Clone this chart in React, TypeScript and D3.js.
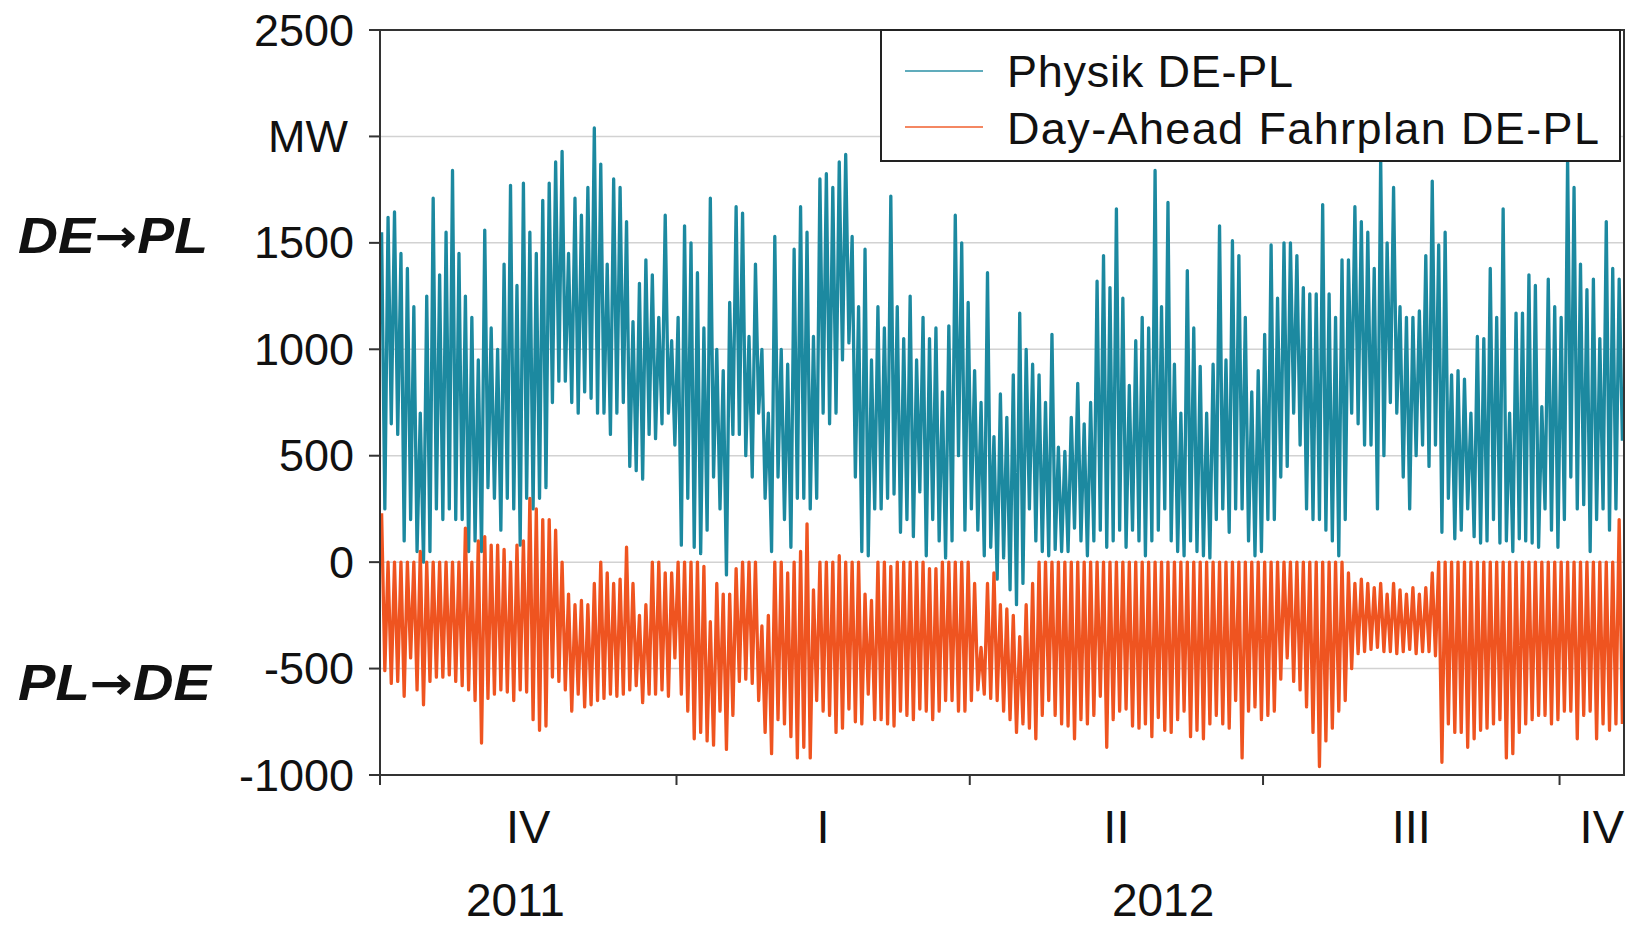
import React from 'react';
import * as d3 from 'd3';

// ---------- data (2-day bins: max and min of each bin, MW) ----------
const startDate = '2011-10-01';
const endDate = '2012-10-21';
const binDays = 2;

const physikHigh = [
  1550,1620,1645,1450,1380,1200,700,1250,1710,1350,1550,1840,1450,1250,1150,950,1560,1100,1000,1400,1770,1300,1780,1550,1450,1700,1780,1880,1930,1450,1710,1630,
  1760,2040,1870,1400,1800,1760,1600,1130,1310,1420,1350,1150,1630,1040,1150,1580,1500,1360,1100,1710,1000,900,1220,1670,1640,1060,1400,1000,700,1530,1000,930,1470,
  1670,1550,1060,1800,1825,1760,1880,1915,1530,1200,1470,950,1200,1100,1720,1200,1050,1250,950,1150,1050,1100,800,1110,1630,1500,1220,900,750,1360,590,790,680,
  880,1170,1000,930,880,750,1070,540,520,680,840,650,750,1320,1440,1290,1660,1240,830,1040,1150,1100,1840,1200,1690,930,700,1370,1100,920,700,930,
  1580,950,1510,1440,1150,800,900,1070,1490,1240,1500,1500,1440,1290,1260,1260,1680,1260,1150,1420,1420,1670,1600,1550,1380,1900,1500,1760,1200,1150,1150,1180,
  1440,1790,1490,1550,880,900,860,700,1060,1050,1380,1150,1660,700,1170,1170,1350,1300,730,1330,1200,1150,1900,1760,1400,1280,1330,1050,1600,1380,1330,
];
const physikLow = [
  250,650,600,100,200,50,0,50,250,200,250,200,200,50,100,50,350,300,150,300,250,80,300,250,300,350,750,850,850,750,700,800,
  770,700,700,600,700,750,450,430,390,600,580,650,700,550,80,300,70,40,150,400,250,-60,600,600,500,400,700,300,50,400,200,70,300,
  300,250,300,700,650,700,950,1030,400,50,30,250,250,300,320,140,200,120,330,30,200,100,20,100,500,150,250,150,30,70,-80,20,-130,
  -200,-100,250,100,50,30,60,50,50,160,100,30,100,150,70,100,150,70,150,100,30,100,150,250,100,50,30,100,50,30,20,200,
  250,140,250,250,100,30,50,200,200,400,450,700,550,250,200,200,150,100,30,200,700,650,550,550,250,500,750,700,400,250,500,550,
  450,550,140,300,110,150,250,120,90,100,200,90,100,50,110,100,90,70,250,150,70,200,400,250,270,50,200,250,150,250,570,
];
const fahrplanHigh = [
  230,0,0,0,0,0,50,0,0,0,0,0,0,160,0,100,120,80,80,60,0,80,100,300,250,200,200,150,0,-150,-200,-180,
  -200,-100,0,-50,-100,-80,70,-100,-250,-200,0,0,-50,-50,0,0,0,0,-20,-280,-100,-150,-150,-30,0,0,0,-300,-250,0,0,-50,0,
  50,180,-130,0,0,0,30,0,0,0,-150,-180,0,0,-20,0,0,0,0,0,-30,-30,0,0,0,0,0,-100,-400,-100,-50,-200,-220,
  -250,-350,-200,-100,0,0,0,0,0,0,0,0,0,0,0,0,0,0,0,0,0,0,0,0,0,0,0,0,0,0,0,0,
  0,0,0,0,0,0,0,0,0,0,0,0,0,0,0,0,0,0,0,0,-50,-100,-80,-100,-120,-100,-150,-100,-130,-150,-120,-150,
  -120,-50,0,0,0,0,0,0,0,0,0,0,0,0,0,0,0,0,0,0,0,0,0,0,0,0,0,0,0,0,200,
];
const fahrplanLow = [
  -510,-570,-560,-630,-450,-600,-670,-560,-540,-540,-530,-560,-580,-600,-650,-850,-640,-620,-600,-610,-650,-600,-610,-740,-790,-770,-540,-560,-600,-700,-620,-680,
  -670,-650,-640,-620,-630,-620,-600,-580,-660,-620,-620,-600,-630,-450,-620,-700,-830,-800,-840,-860,-700,-880,-720,-560,-550,-570,-650,-800,-900,-740,-760,-820,-920,
  -870,-920,-650,-700,-720,-800,-780,-690,-750,-760,-620,-740,-740,-760,-770,-700,-720,-740,-690,-700,-740,-700,-650,-650,-700,-700,-650,-600,-620,-640,-650,-700,-740,
  -800,-760,-780,-830,-720,-650,-720,-760,-770,-830,-740,-760,-720,-630,-870,-740,-700,-690,-770,-780,-760,-820,-730,-790,-800,-740,-700,-820,-790,-830,-760,-720,
  -760,-780,-650,-920,-700,-680,-740,-720,-700,-550,-450,-560,-600,-680,-800,-960,-840,-780,-700,-650,-500,-430,-420,-410,-400,-420,-420,-430,-420,-410,-430,-420,
  -420,-440,-940,-760,-800,-800,-870,-830,-790,-780,-760,-740,-920,-900,-800,-760,-740,-720,-720,-760,-740,-700,-700,-830,-720,-700,-830,-760,-790,-760,-760,
];

const yTicks = [-1000, -500, 0, 500, 1000, 1500, 2000, 2500];
const yTickLabels = ['-1000', '-500', '0', '500', '1000', '1500', 'MW', '2500'];
const quarterStarts = ['2011-10-01', '2012-01-01', '2012-04-01', '2012-07-01', '2012-10-01', '2013-01-01'];
const quarterLabels = ['IV', 'I', 'II', 'III', 'IV'];
const yearLabels = ['2011', '2012'];
const yearLabelDates = ['2011-11-12', '2012-05-31'];
const seriesNames = ['Physik DE-PL', 'Day-Ahead Fahrplan DE-PL'];
const seriesColors = ['#1c89a0', '#ef5420'];
const directionFrom = ['DE', 'PL'];
const directionTo = ['PL', 'DE'];
const directionValues = [1530, -570];

// ---------- layout ----------
const W = 1631;
const H = 925;
const M = { left: 380, right: 1624, top: 30, bottom: 775 };
const FONT = '"Liberation Sans", Arial, Helvetica, sans-serif';

const parse = (s: string) => new Date(s + 'T00:00:00Z');

export default function App() {
  const x = d3.scaleUtc().domain([parse(startDate), parse(endDate)]).range([M.left, M.right]);
  const y = d3.scaleLinear().domain([-1000, 2500]).range([M.bottom, M.top]);
  const t0 = parse(startDate);

  const toPoints = (hi: number[], lo: number[]) => {
    const pts: [Date, number][] = [];
    hi.forEach((h, k) => {
      pts.push([d3.utcHour.offset(t0, k * binDays * 24 + 12), h]);
      pts.push([d3.utcHour.offset(t0, k * binDays * 24 + 36), lo[k]]);
    });
    return pts;
  };
  const line = d3
    .line<[Date, number]>()
    .x((d) => x(d[0]))
    .y((d) => y(d[1]));

  const physikPath = line(toPoints(physikHigh, physikLow)) || '';
  const fahrplanPath = line(toPoints(fahrplanHigh, fahrplanLow)) || '';

  const qDates = quarterStarts.map(parse);
  const domainEnd = parse(endDate);

  return (
    <svg
      width={W}
      height={H}
      style={{ position: 'absolute', left: 0, top: 0, background: '#fff' }}
      fontFamily={FONT}
    >
      <rect x={0} y={0} width={W} height={H} fill="#fff" />
      <defs>
        <clipPath id="plotclip">
          <rect x={M.left} y={M.top} width={M.right - M.left} height={M.bottom - M.top} />
        </clipPath>
      </defs>

      {/* grid */}
      {yTicks
        .filter((v) => v > -1000 && v < 2500)
        .map((v) => (
          <line key={'g' + v} x1={M.left} x2={M.right} y1={y(v)} y2={y(v)} stroke="#d2d2d2" strokeWidth={1.5} />
        ))}

      {/* data */}
      <g clipPath="url(#plotclip)">
        <path d={physikPath} fill="none" stroke={seriesColors[0]} strokeWidth={3.3} strokeLinejoin="round" />
        <path d={fahrplanPath} fill="none" stroke={seriesColors[1]} strokeWidth={3.3} strokeLinejoin="round" />
      </g>

      {/* frame */}
      <rect x={M.left} y={M.top} width={M.right - M.left} height={M.bottom - M.top} fill="none" stroke="#333" strokeWidth={2} />

      {/* y ticks + labels */}
      {yTicks.map((v, i) => (
        <g key={'y' + v}>
          <line x1={M.left - 11} x2={M.left} y1={y(v)} y2={y(v)} stroke="#333" strokeWidth={2} />
          <text
            x={yTickLabels[i] === 'MW' ? 348 : 354}
            y={y(v)}
            textAnchor="end"
            dominantBaseline="central"
            fontSize={45}
            fill="#111"
          >
            {yTickLabels[i]}
          </text>
        </g>
      ))}

      {/* x ticks */}
      {qDates
        .filter((d) => d <= domainEnd)
        .map((d, i) => (
          <line key={'xt' + i} x1={x(d)} x2={x(d)} y1={M.bottom} y2={M.bottom + 10} stroke="#333" strokeWidth={2} />
        ))}

      {/* quarter labels */}
      {quarterLabels.map((lab, i) => {
        const a = qDates[i];
        const b = qDates[i + 1];
        const clipped = b > domainEnd;
        const cx = clipped ? M.right : (x(a) + x(b)) / 2;
        return (
          <text key={'q' + i} x={cx} y={843} textAnchor={clipped ? 'end' : 'middle'} fontSize={47} fill="#111">
            {lab}
          </text>
        );
      })}

      {/* year labels */}
      {yearLabels.map((lab, i) => (
        <text key={'yr' + i} x={x(parse(yearLabelDates[i]))} y={916} textAnchor="middle" fontSize={46} fill="#111">
          {lab}
        </text>
      ))}

      {/* direction labels */}
      {directionFrom.map((from, i) => (
        <text
          key={'dir' + i}
          x={18}
          y={y(directionValues[i])}
          dominantBaseline="central"
          fontSize={50}
          fontWeight="bold"
          fontStyle="italic"
          fill="#111"
          textLength={i === 0 ? 190 : 193}
          lengthAdjust="spacingAndGlyphs"
        >
          {from}
          <tspan fontFamily='"DejaVu Sans", sans-serif' fontStyle="normal" fontWeight="bold" fontSize={46}>
            {'\u2192'}
          </tspan>
          {directionTo[i]}
        </text>
      ))}

      {/* legend */}
      <g>
        <rect x={881} y={30} width={739} height={131} fill="#fff" stroke="#222" strokeWidth={2} />
        {seriesNames.map((name, i) => (
          <g key={'leg' + i}>
            <line
              x1={905}
              x2={983}
              y1={71 + i * 56}
              y2={71 + i * 56}
              stroke={seriesColors[i]}
              strokeOpacity={0.7}
              strokeWidth={2}
            />
            <text
              x={1007}
              y={87 + i * 57}
              fontSize={45}
              fill="#111"
              textLength={i === 0 ? 286 : 592}
              lengthAdjust="spacing"
            >
              {name}
            </text>
          </g>
        ))}
      </g>
    </svg>
  );
}
